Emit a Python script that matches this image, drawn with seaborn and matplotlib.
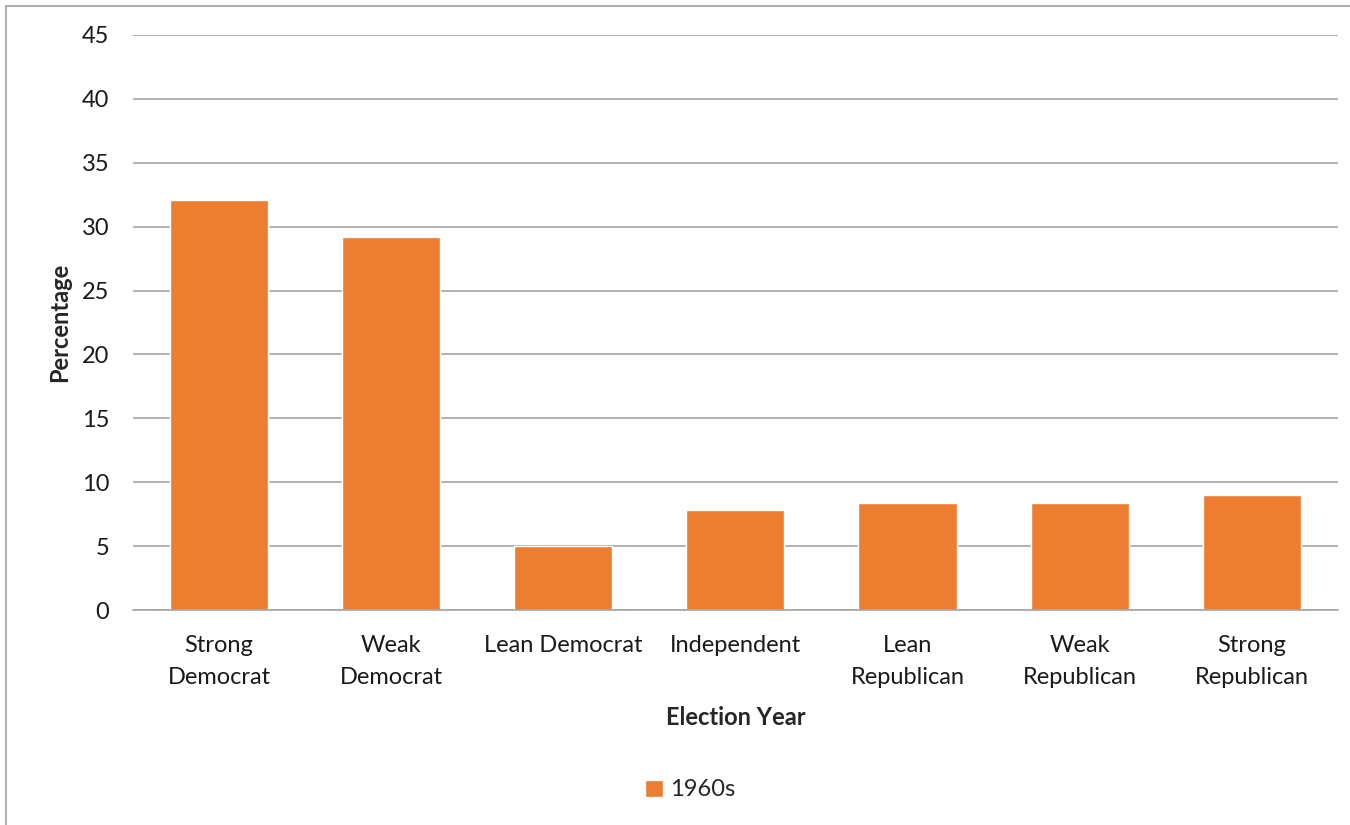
import numpy as np
import pandas as pd
import seaborn as sns
import matplotlib.pyplot as plt
from matplotlib.patches import Rectangle

# Party identification, 1960s
categories = ["Strong\nDemocrat", "Weak\nDemocrat", "Lean Democrat", "Independent",
              "Lean\nRepublican", "Weak\nRepublican", "Strong\nRepublican"]
values_1960s = [32.1, 29.2, 5.0, 7.8, 8.4, 8.4, 9.0]
series_name = "1960s"
y_ticks = [0, 5, 10, 15, 20, 25, 30, 35, 40, 45]

df = pd.DataFrame({"category": categories, "value": values_1960s, "series": series_name})

sns.set_style("white")
plt.rcParams['font.family'] = ['Lato', 'DejaVu Sans']

fig = plt.figure(figsize=(13.5, 8.25), dpi=100)
ax = fig.add_axes([0.0985, 0.2606, 0.8925, 0.697])

sns.barplot(data=df, x="category", y="value", hue="series", palette=["#ED7D31"],
            width=0.57, ax=ax, saturation=1, legend=True)

ax.set_ylim(0, 45)
ax.set_yticks(y_ticks)
ax.set_xlim(-0.5, len(categories) - 0.5)
ax.set_xticks(range(len(categories)), labels=categories, linespacing=1.65)
ax.yaxis.grid(True, color="#a6a6a6", linewidth=1.2)
ax.set_axisbelow(True)
for s in ["top", "right", "left"]:
    ax.spines[s].set_visible(False)
ax.spines["bottom"].set_color("#a6a6a6")
ax.spines["bottom"].set_linewidth(1.2)
ax.tick_params(axis="y", length=0, pad=17, labelsize=17, labelcolor="#1a1a1a")
ax.tick_params(axis="x", length=0, pad=18, labelsize=17, labelcolor="#1a1a1a")

ax.set_xlabel("Election Year", fontsize=17, fontweight="bold", labelpad=13)
ax.set_ylabel("Percentage", fontsize=17, fontweight="bold", labelpad=8)

ax.legend(loc="center", frameon=False, fontsize=17, handlelength=0.75,
          handleheight=0.75, handletextpad=0.3)
leg = ax.get_legend()
leg.set_bbox_to_anchor((0.511, 1 - 790 / 825), transform=fig.transFigure)

# chart border as in the spreadsheet export
fig.patches.append(Rectangle((6 / 1350, -0.01), 1.1, 1 - 6 / 825 + 0.01,
                             transform=fig.transFigure, fill=False,
                             edgecolor="#b0b0b0", linewidth=1.5))

fig.savefig("out.png", dpi=100)
